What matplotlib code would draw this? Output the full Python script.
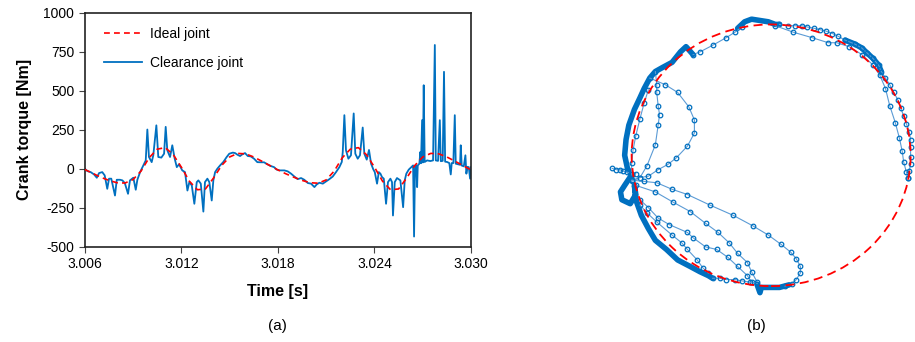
import numpy as np
import matplotlib.pyplot as plt
from matplotlib.patches import Circle

plt.rcParams['font.family'] = ['Liberation Sans', 'DejaVu Sans']
plt.rcParams['axes.unicode_minus'] = False

# (a) crank torque of the ideal joint [Nm], sampled every 0.5 ms
t_ideal = np.linspace(3.006, 3.030, 49)
T_ideal = [-5, -30, -55, -75, -90, -92, -70, -15, 70, 125, 135, 90, 10, -80,
           -135, -130, -60, 20, 75, 98, 95, 75, 48, 20, -8, -33, -55, -75,
           -90, -93, -72, -15, 70, 125, 135, 90, 10, -80, -135, -130, -60,
           20, 75, 98, 95, 75, 48, 20, -8]

# (a) crank torque of the clearance joint [Nm]
t_clear = [3.00600, 3.00616, 3.00637, 3.00658, 3.00675, 3.00689, 3.00709,
           3.00724, 3.00740, 3.00751, 3.00765, 3.00788, 3.00799, 3.00819,
           3.00834, 3.00849, 3.00869, 3.00881, 3.00902, 3.00917, 3.00927,
           3.00944, 3.00964, 3.00979, 3.00989, 3.00999, 3.01016, 3.01026,
           3.01045, 3.01057, 3.01076, 3.01093, 3.01103, 3.01113, 3.01130,
           3.01144, 3.01159, 3.01172, 3.01186, 3.01206, 3.01223, 3.01238,
           3.01250, 3.01265, 3.01281, 3.01296, 3.01306, 3.01321, 3.01337,
           3.01347, 3.01362, 3.01374, 3.01389, 3.01399, 3.01410, 3.01424,
           3.01441, 3.01461, 3.01482, 3.01498, 3.01520, 3.01534, 3.01548,
           3.01565, 3.01579, 3.01596, 3.01613, 3.01631, 3.01652, 3.01672,
           3.01694, 3.01714, 3.01735, 3.01756, 3.01776, 3.01793, 3.01813,
           3.01840, 3.01861, 3.01882, 3.01902, 3.01923, 3.01944, 3.01964,
           3.01986, 3.02006, 3.02027, 3.02041, 3.02058, 3.02079, 3.02099,
           3.02120, 3.02141, 3.02161, 3.02182, 3.02197, 3.02203, 3.02213,
           3.02223, 3.02238, 3.02254, 3.02271, 3.02281, 3.02296, 3.02310,
           3.02327, 3.02337, 3.02352, 3.02366, 3.02379, 3.02393, 3.02402,
           3.02416, 3.02427, 3.02437, 3.02447, 3.02458, 3.02472, 3.02484,
           3.02499, 3.02509, 3.02515, 3.02526, 3.02540, 3.02561, 3.02578,
           3.02588, 3.02598, 3.02613, 3.02629, 3.02640, 3.02646, 3.02652,
           3.02660, 3.02665, 3.02669, 3.02679, 3.02685, 3.02689, 3.02696,
           3.02701, 3.02706, 3.02712, 3.02727, 3.02747, 3.02764, 3.02775,
           3.02781, 3.02795, 3.02806, 3.02812, 3.02824, 3.02832, 3.02839,
           3.02851, 3.02865, 3.02874, 3.02880, 3.02890, 3.02899, 3.02905,
           3.02919, 3.02932, 3.02936, 3.02942, 3.02955, 3.02965, 3.02971,
           3.02978, 3.02986, 3.02994, 3.03000]
T_clear = [0, -15, -22, -37, -58, -28, -22, -43, -129, -64, -64, -172, -71,
           -71, -75, -92, -161, -75, -58, -135, -71, -22, 21, 53, 251, 75,
           42, 86, 278, 75, 71, 96, 268, 118, 75, 150, 64, 10, 28, -11, -22,
           -140, -86, -107, -225, -86, -75, -96, -275, -86, -64, -86, -204,
           -75, -22, 0, 21, 43, 75, 96, 103, 100, 90, 81, 92, 100, 81, 79,
           64, 42, 41, 41, 28, 17, 10, -6, -11, -11, -17, -32, -50, -67, -60,
           -71, -92, -96, -118, -101, -90, -96, -82, -67, -50, -22, 10, 43,
           107, 343, 118, 64, 86, 354, 96, 64, 86, 264, 96, 58, 120, 32, -5,
           -22, -96, -22, -32, -54, -64, -225, -86, -64, -86, -300, -86, -60,
           -75, -247, -75, -32, -6, 10, 21, -435, 15, 21, -118, 21, 32, 107,
           35, 311, 40, 535, 43, 53, 49, 53, 793, 53, 50, 311, 48, 50, 621,
           45, 43, 36, -37, 36, 36, 343, 32, 28, 25, 150, 20, 15, 86, -32,
           12, 10, -64, 10]

# (b) journal centre orbit, eccentricity / radial clearance
# dense bands
band_top_x = [-0.24, -0.19, -0.14, -0.08, -0.02, 0.03, 0.06]
band_top_y = [0.97, 1.02, 1.04, 1.03, 1.02, 1.00, 1.00]
band_left_x = [-0.56, -0.61, -0.65, -0.71, -0.78, -0.83, -0.87, -0.91, -0.94,
               -0.98, -1.02, -1.04, -1.05, -1.03, -1.00, -1.05, -1.08, -1.07,
               -1.01, -0.97, -0.98, -0.97, -0.93, -0.88, -0.83, -0.75, -0.67,
               -0.58, -0.51, -0.45, -0.42]
band_left_y = [0.77, 0.83, 0.79, 0.71, 0.67, 0.64, 0.59, 0.51, 0.44, 0.35,
               0.23, 0.12, 0.00, -0.10, -0.15, -0.23, -0.28, -0.34, -0.37,
               -0.30, -0.23, -0.34, -0.46, -0.56, -0.65, -0.72, -0.80, -0.85,
               -0.89, -0.92, -0.94]
band_bot_x = [-0.10, -0.08, -0.07, -0.01, 0.06, 0.13]
band_bot_y = [-0.99, -1.05, -1.01, -1.01, -1.01, -0.99]
band_right_x = [0.53, 0.60, 0.65, 0.69, 0.73, 0.77, 0.79]
band_right_y = [0.88, 0.85, 0.82, 0.78, 0.74, 0.69, 0.64]

# sampled paths
outer_x = [0.06, 0.12, 0.17, 0.22, 0.26, 0.31, 0.35, 0.39, 0.44, 0.48, 0.53,
           0.60, 0.65, 0.69, 0.73, 0.77, 0.79, 0.82, 0.85, 0.88, 0.91, 0.93,
           0.95, 0.97, 0.99, 1.00, 1.00, 1.00, 1.00, 0.99, 0.98]
outer_y = [1.00, 0.99, 0.99, 0.99, 0.98, 0.97, 0.96, 0.95, 0.93, 0.91, 0.88,
           0.85, 0.82, 0.78, 0.74, 0.69, 0.64, 0.59, 0.54, 0.48, 0.42, 0.36,
           0.30, 0.24, 0.18, 0.12, 0.06, -0.01, -0.07, -0.12, -0.17]
inner_x = [0.03, 0.16, 0.29, 0.41, 0.47, 0.56, 0.65, 0.73, 0.78, 0.82, 0.85,
           0.89, 0.92, 0.94, 0.95, 0.97, 0.98]
inner_y = [0.99, 0.94, 0.90, 0.86, 0.86, 0.83, 0.77, 0.69, 0.61, 0.51, 0.38,
           0.25, 0.13, 0.03, -0.05, -0.13, -0.17]
topleft_x = [-0.56, -0.51, -0.42, -0.32, -0.26, -0.21]
topleft_y = [0.77, 0.79, 0.84, 0.90, 0.94, 0.98]
loop1_x = [-0.87, -0.76, -0.67, -0.59, -0.55, -0.55, -0.60, -0.68, -0.74,
           -0.81, -0.88, -0.94, -1.00]
loop1_y = [0.59, 0.54, 0.48, 0.37, 0.27, 0.17, 0.07, -0.02, -0.07, -0.11,
           -0.16, -0.17, -0.19]
loop2_x = [-0.83, -0.82, -0.82, -0.81, -0.80, -0.81, -0.83, -0.89, -0.94, -1.00]
loop2_y = [0.64, 0.54, 0.48, 0.38, 0.31, 0.23, 0.08, -0.08, -0.17, -0.20]
side_x = [-0.88, -0.91, -0.94, -0.97, -0.99, -1.00, -1.00]
side_y = [0.50, 0.40, 0.28, 0.15, 0.04, -0.06, -0.15]
cross_x = [-1.14, -1.11, -1.08, -1.06, -1.03, -1.00, -0.97]
cross_y = [-0.10, -0.11, -0.11, -0.12, -0.13, -0.14, -0.14]
loop3_x = [-1.00, -0.91, -0.82, -0.71, -0.60, -0.44, -0.27, -0.13, -0.02,
           0.07, 0.14, 0.18, 0.21, 0.21, 0.18, 0.15, 0.10]
loop3_y = [-0.19, -0.20, -0.21, -0.26, -0.30, -0.38, -0.46, -0.54, -0.61,
           -0.68, -0.74, -0.79, -0.85, -0.90, -0.95, -0.98, -1.00]
loop4_x = [-0.97, -0.83, -0.70, -0.58, -0.47, -0.38, -0.30, -0.24, -0.17,
           -0.14, -0.10]
loop4_y = [-0.23, -0.28, -0.36, -0.43, -0.52, -0.59, -0.67, -0.75, -0.82,
           -0.89, -0.97]
loop5_x = [-0.94, -0.88, -0.81, -0.73, -0.60, -0.56, -0.47, -0.39, -0.31,
           -0.24, -0.17, -0.14]
loop5_y = [-0.34, -0.40, -0.48, -0.53, -0.59, -0.63, -0.70, -0.72, -0.78,
           -0.85, -0.92, -0.97]
loop6_x = [-0.94, -0.89, -0.82, -0.71, -0.64, -0.60, -0.53, -0.49, -0.45]
loop6_y = [-0.38, -0.44, -0.51, -0.61, -0.67, -0.72, -0.80, -0.86, -0.90]
bottom_x = [-0.42, -0.37, -0.32, -0.26, -0.21, -0.15, -0.10]
bottom_y = [-0.94, -0.94, -0.95, -0.95, -0.96, -0.97, -0.98]

blue = '#0070C0'

fig = plt.figure(figsize=(9.15, 3.42), dpi=100, facecolor='w')

# ---- panel (a)
ax = fig.add_axes([0.0926, 0.2787, 0.4222, 0.6842])
ax.plot(t_ideal, T_ideal, color='#FF0000', lw=1.2, dashes=(3.5, 2.5),
        label='Ideal joint', zorder=3)
ax.plot(t_clear, T_clear, color=blue, lw=1.3, label='Clearance joint', zorder=2)
ax.set_xlim(3.006, 3.030)
ax.set_ylim(-500, 1000)
ax.set_xticks([3.006, 3.012, 3.018, 3.024, 3.030])
ax.set_xticklabels(['3.006', '3.012', '3.018', '3.024', '3.030'])
ax.set_yticks([-500, -250, 0, 250, 500, 750, 1000])
ax.tick_params(labelsize=10, length=4, width=0.8, color='#444444')
ax.set_xlabel('Time [s]', fontsize=11.5, fontweight='bold', labelpad=9)
ax.set_ylabel('Crank torque [Nm]', fontsize=11.5, fontweight='bold', labelpad=8)
for s in ax.spines.values():
    s.set_linewidth(1.2)
    s.set_color('#222222')
leg = ax.legend(loc='upper left', bbox_to_anchor=(0.05, 0.94), frameon=False,
                fontsize=10, handlelength=2.7, labelspacing=1.1,
                borderaxespad=0, borderpad=0, handletextpad=0.6)

# ---- panel (b)
bx = fig.add_axes([0.6522, 0.106, 0.3811, 0.880])
bx.set_xlim(-1.25, 1.25)
bx.set_ylim(-1.15, 1.15)
bx.axis('off')

for x, y in [(band_top_x, band_top_y), (band_left_x, band_left_y),
             (band_bot_x, band_bot_y), (band_right_x, band_right_y)]:
    bx.plot(x, y, color=blue, lw=4, solid_capstyle='round',
            solid_joinstyle='round', zorder=2)

for x, y in [(outer_x, outer_y), (inner_x, inner_y), (topleft_x, topleft_y),
             (loop1_x, loop1_y), (loop2_x, loop2_y), (side_x, side_y),
             (cross_x, cross_y), (loop3_x, loop3_y), (loop4_x, loop4_y),
             (loop5_x, loop5_y), (loop6_x, loop6_y), (bottom_x, bottom_y)]:
    bx.plot(x, y, '-', color='#5B9BD5', lw=0.8, marker='o', ms=3.3,
            mfc='none', mec=blue, mew=0.9, zorder=2)

bx.add_patch(Circle((0, 0), 1.0, fill=False, ec='#FF0000', lw=1.3,
                    ls=(0, (5, 3)), zorder=3))

fig.text(0.303, 0.047, '(a)', ha='center', va='center', fontsize=11)
fig.text(0.827, 0.047, '(b)', ha='center', va='center', fontsize=11)

fig.savefig('out.png', dpi=100)
